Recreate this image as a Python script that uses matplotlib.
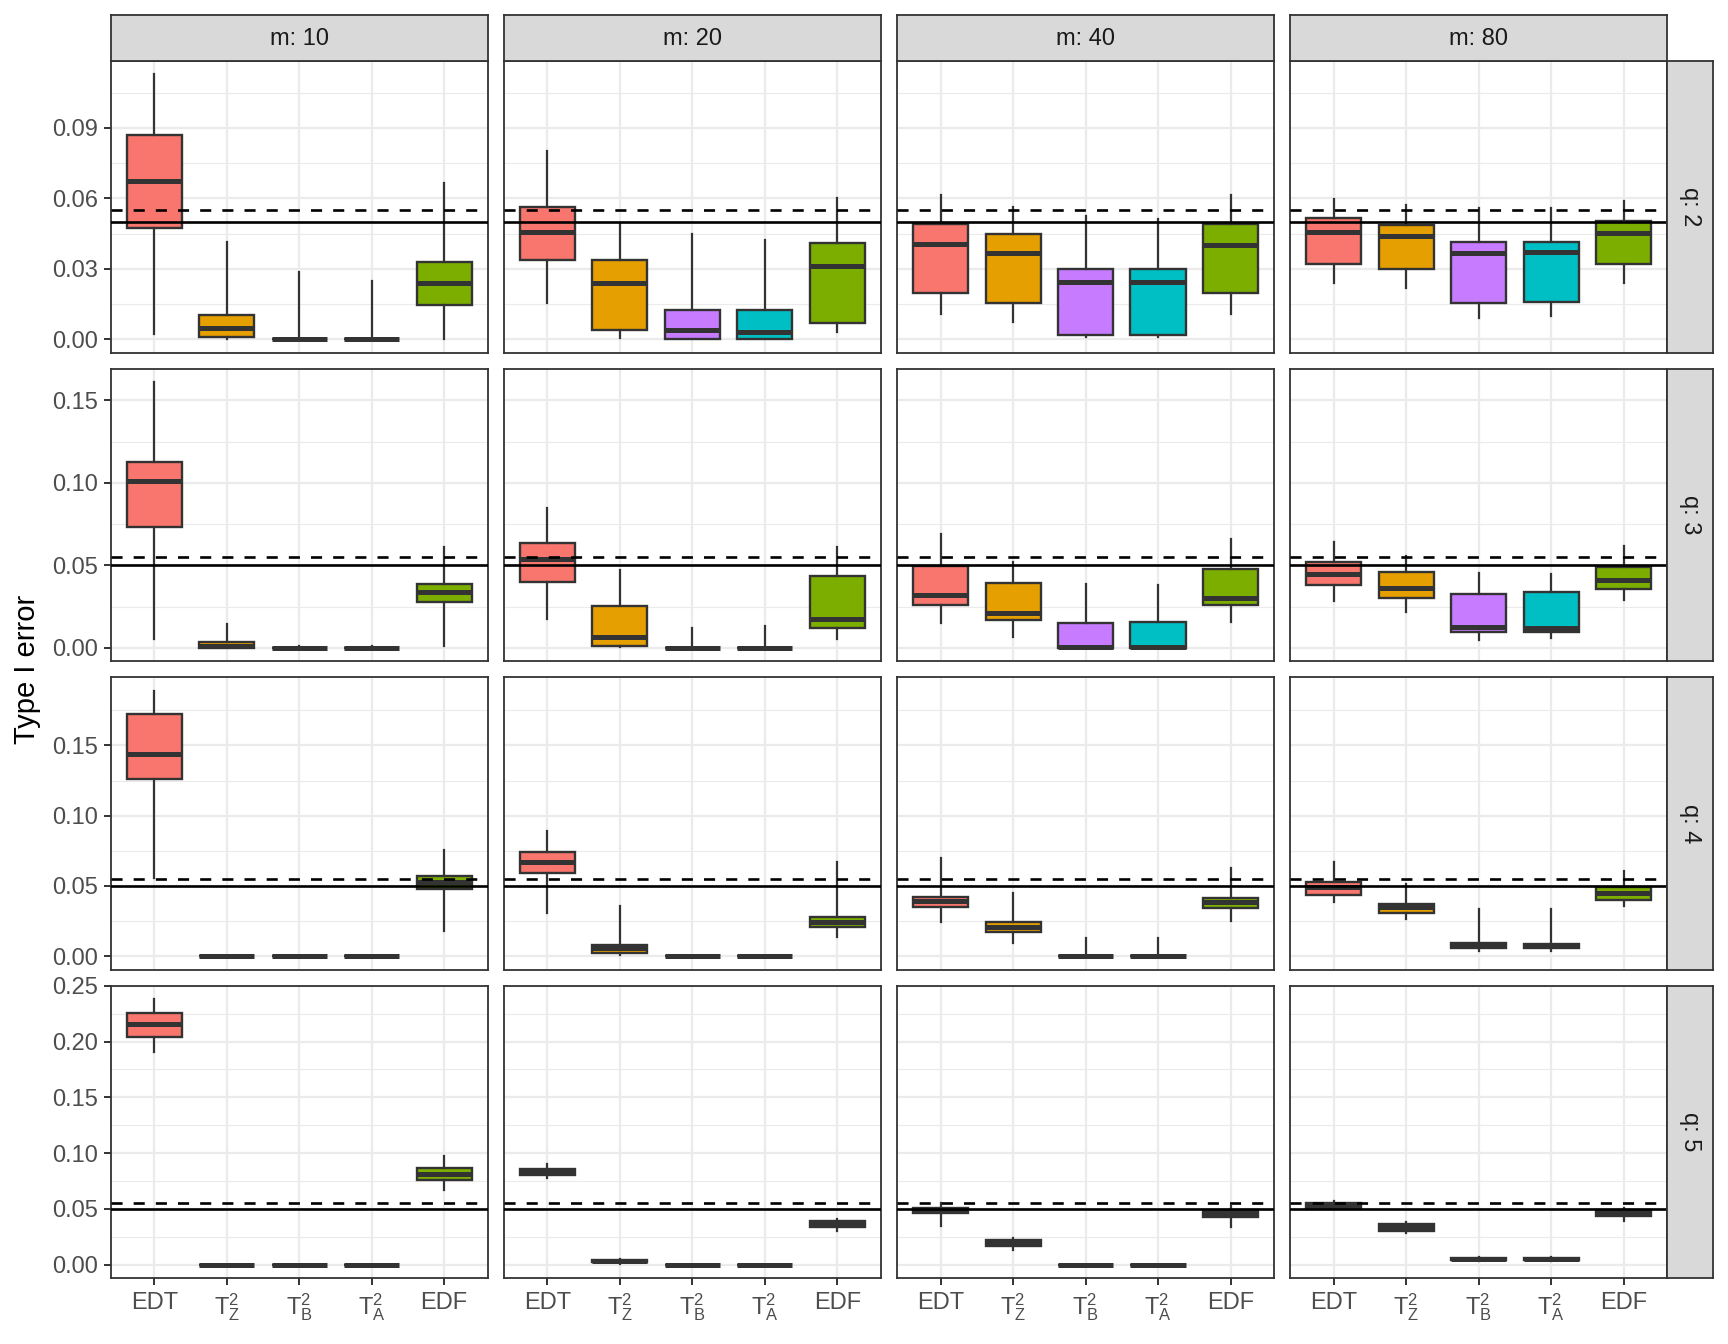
import matplotlib
matplotlib.use("Agg")
import matplotlib.pyplot as plt
import numpy as np

plt.rcParams['font.family'] = ['Liberation Sans', 'DejaVu Sans']
plt.rcParams['mathtext.fontset'] = 'custom'
plt.rcParams['mathtext.rm'] = 'Liberation Sans'
plt.rcParams['mathtext.it'] = 'Liberation Sans'

# each box: (whisker low, q1, median, q3, whisker high)
methods = ["EDT", "TZ", "TB", "TA", "EDF"]
tick_labels = ["EDT", r"$\mathrm{T}_\mathrm{Z}^2$", r"$\mathrm{T}_\mathrm{B}^2$",
               r"$\mathrm{T}_\mathrm{A}^2$", "EDF"]
colors = ["#F8766D", "#E69F00", "#C77CFF", "#00BFC4", "#7CAE00"]
m_values = [10, 20, 40, 80]
q_values = [2, 3, 4, 5]
alpha_level = 0.05
alpha_upper = 0.055

zero = (0, 0, 0, 0, 0)

q2_m10 = [(0.0023, 0.0476, 0.0676, 0.0872, 0.113),
          (0.0, 0.001, 0.005, 0.0103, 0.0415),
          (0, 0, 0, 0, 0.0285),
          (0, 0, 0, 0, 0.0247),
          (0.0, 0.0145, 0.0238, 0.0331, 0.0667)]
q2_m20 = [(0.0154, 0.0336, 0.0457, 0.0564, 0.080),
          (0.0005, 0.0042, 0.0238, 0.0336, 0.0494),
          (0, 0, 0.0042, 0.0126, 0.0448),
          (0, 0, 0.0033, 0.0126, 0.0424),
          (0.003, 0.007, 0.0312, 0.041, 0.060)]
q2_m40 = [(0.0107, 0.0196, 0.0406, 0.049, 0.0616),
          (0.0075, 0.0154, 0.0368, 0.0448, 0.0564),
          (0.001, 0.0019, 0.0243, 0.030, 0.0527),
          (0.001, 0.0019, 0.0243, 0.030, 0.0513),
          (0.0107, 0.0196, 0.040, 0.049, 0.0616)]
q2_m80 = [(0.0238, 0.0322, 0.0457, 0.0518, 0.0597),
          (0.0219, 0.030, 0.0438, 0.0485, 0.057),
          (0.0093, 0.0154, 0.0368, 0.0415, 0.056),
          (0.0098, 0.0159, 0.0372, 0.0415, 0.056),
          (0.0238, 0.0322, 0.0452, 0.0504, 0.0588)]

q3_m10 = [(0.0053, 0.073, 0.1009, 0.1128, 0.161),
          (0, 0, 0.0013, 0.0033, 0.0146),
          (0, 0, 0, 0, 0.001),
          (0, 0, 0, 0, 0.001),
          (0.0013, 0.0279, 0.0338, 0.0385, 0.061)]
q3_m20 = [(0.0173, 0.0398, 0.0537, 0.0637, 0.085),
          (0.0007, 0.0013, 0.0066, 0.0252, 0.047),
          (0, 0, 0, 0, 0.012),
          (0, 0, 0, 0, 0.013),
          (0.0053, 0.012, 0.0173, 0.0438, 0.061)]
q3_m40 = [(0.0153, 0.0259, 0.0318, 0.0498, 0.069),
          (0.0066, 0.0166, 0.0212, 0.039, 0.0518),
          (0, 0, 0.0007, 0.0153, 0.0385),
          (0, 0, 0.0007, 0.0159, 0.0378),
          (0.0159, 0.0259, 0.0305, 0.0478, 0.0657)]
q3_m80 = [(0.0285, 0.0378, 0.0445, 0.0518, 0.064),
          (0.0219, 0.0305, 0.0365, 0.0458, 0.0557),
          (0.0046, 0.0093, 0.0126, 0.0325, 0.0451),
          (0.006, 0.0093, 0.012, 0.0338, 0.0445),
          (0.0292, 0.0358, 0.0411, 0.0491, 0.0617)]

q4_m10 = [(0.0555, 0.1258, 0.1438, 0.1727, 0.189),
          zero, zero, zero,
          (0.018, 0.0477, 0.0531, 0.057, 0.0758)]
q4_m20 = [(0.0305, 0.0594, 0.0672, 0.0742, 0.089),
          (0.0008, 0.0023, 0.0055, 0.0078, 0.036),
          zero, zero,
          (0.014, 0.021, 0.0242, 0.028, 0.0672)]
q4_m40 = [(0.0242, 0.0352, 0.039, 0.0422, 0.070),
          (0.0094, 0.0172, 0.021, 0.0242, 0.0453),
          (0, 0, 0, 0, 0.0133),
          (0, 0, 0, 0, 0.0133),
          (0.025, 0.0344, 0.0383, 0.0414, 0.0625)]
q4_m80 = [(0.0383, 0.0438, 0.0492, 0.0531, 0.0672),
          (0.0266, 0.0305, 0.0352, 0.0375, 0.0516),
          (0.004, 0.0055, 0.0078, 0.0094, 0.0336),
          (0.004, 0.0055, 0.007, 0.0086, 0.0336),
          (0.036, 0.0398, 0.0453, 0.0492, 0.061)]

q5_m10 = [(0.191, 0.2037, 0.2156, 0.2254, 0.238),
          zero, zero, zero,
          (0.0669, 0.0758, 0.0817, 0.0866, 0.0974)]
q5_m20 = [(0.0778, 0.0807, 0.0837, 0.0856, 0.0906),
          (0.001, 0.002, 0.003, 0.004, 0.005),
          zero, zero,
          (0.0305, 0.0335, 0.0364, 0.0394, 0.0413)]
q5_m40 = [(0.0344, 0.0463, 0.0492, 0.0512, 0.0551),
          (0.0128, 0.0167, 0.0197, 0.0217, 0.0236),
          zero, zero,
          (0.0335, 0.0423, 0.0463, 0.0492, 0.0522)]
q5_m80 = [(0.0502, 0.0502, 0.0532, 0.0551, 0.057),
          (0.0285, 0.0305, 0.0335, 0.0364, 0.0384),
          (0.003, 0.004, 0.005, 0.006, 0.007),
          (0.003, 0.004, 0.005, 0.006, 0.007),
          (0.0394, 0.0433, 0.0463, 0.0492, 0.0512)]

panels = [[q2_m10, q2_m20, q2_m40, q2_m80],
          [q3_m10, q3_m20, q3_m40, q3_m80],
          [q4_m10, q4_m20, q4_m40, q4_m80],
          [q5_m10, q5_m20, q5_m40, q5_m80]]

row_ticks = [[0, 0.03, 0.06, 0.09],
             [0, 0.05, 0.10, 0.15],
             [0, 0.05, 0.10, 0.15],
             [0, 0.05, 0.10, 0.15, 0.20, 0.25]]

W, H = 1728, 1344
fig = plt.figure(figsize=(W / 100, H / 100), dpi=100)
fig.patch.set_facecolor("white")


def px_axes(x0, y0, w, h):
    return fig.add_axes([x0 / W, 1 - (y0 + h) / H, w / W, h / H])


left0 = 110.7
pw = 376.9
col_step = 393.2
top0 = 60.6
ph = 292.1
row_step = 308.4
strip_h = 45.6
strip_w = 46.3
dark = "#333333"
fs = 17

for r in range(4):
    # row-wise free y scale, including the reference lines
    vals = [alpha_level, alpha_upper]
    for c in range(4):
        for b in panels[r][c]:
            vals.extend(b)
    lo, hi = min(vals), max(vals)
    pad = (hi - lo) * 0.05
    ylim = (lo - pad, hi + pad)
    ticks = row_ticks[r]
    step = ticks[1] - ticks[0]
    minor = [t + step / 2 for t in [ticks[0] - step] + ticks]
    minor = [m for m in minor if ylim[0] <= m <= ylim[1]]

    for c in range(4):
        ax = px_axes(left0 + c * col_step, top0 + r * row_step, pw, ph)
        ax.set_facecolor("white")
        ax.set_xlim(0.4, 5.6)
        ax.set_ylim(*ylim)
        for t in ticks:
            ax.axhline(t, color="#EBEBEB", lw=1.6, zorder=0)
        for t in minor:
            ax.axhline(t, color="#EBEBEB", lw=0.8, zorder=0)
        for x in range(1, 6):
            ax.axvline(x, color="#EBEBEB", lw=1.6, zorder=0)

        stats = []
        for lab, b in zip(methods, panels[r][c]):
            stats.append(dict(label=lab, whislo=b[0], q1=b[1], med=b[2],
                              q3=b[3], whishi=b[4], fliers=[]))
        bp = ax.bxp(stats, positions=range(1, 6), widths=0.76,
                    showcaps=False, showfliers=False, patch_artist=True,
                    boxprops=dict(edgecolor=dark, linewidth=1.7),
                    whiskerprops=dict(color=dark, linewidth=1.6),
                    medianprops=dict(color=dark, linewidth=3.6,
                                     solid_capstyle="butt"),
                    zorder=2)
        for patch, col in zip(bp["boxes"], colors):
            patch.set_facecolor(col)

        ax.axhline(alpha_level, color="black", lw=1.9, zorder=4)
        ax.axhline(alpha_upper, color="black", lw=1.9,
                   linestyle=(0, (4.2, 4.2)), zorder=4)

        for s in ax.spines.values():
            s.set_color(dark)
            s.set_linewidth(1.3)
        ax.tick_params(axis="both", colors=dark, length=5, width=1.4,
                       labelcolor="#4D4D4D", labelsize=fs)
        ax.tick_params(axis="y", pad=4)
        ax.tick_params(axis="x", pad=5)
        ax.set_xticks(range(1, 6))
        if r == 3:
            ax.set_xticklabels(tick_labels)
        else:
            ax.tick_params(axis="x", length=0)
            ax.set_xticklabels([])
        ax.set_yticks(ticks)
        if c == 0:
            ax.set_yticklabels(["%.2f" % t for t in ticks])
        else:
            ax.tick_params(axis="y", length=0)
            ax.set_yticklabels([])

        if r == 0:
            sa = px_axes(left0 + c * col_step, top0 - strip_h, pw, strip_h)
            sa.set_facecolor("#D9D9D9")
            sa.set_xticks([])
            sa.set_yticks([])
            for s in sa.spines.values():
                s.set_color(dark)
                s.set_linewidth(1.3)
            sa.text(0.5, 0.47, "m: %d" % m_values[c], ha="center", va="center",
                    fontsize=fs, color="#1A1A1A", transform=sa.transAxes)

    sa = px_axes(left0 + 3 * col_step + pw, top0 + r * row_step, strip_w, ph)
    sa.set_facecolor("#D9D9D9")
    sa.set_xticks([])
    sa.set_yticks([])
    for s in sa.spines.values():
        s.set_color(dark)
        s.set_linewidth(1.3)
    sa.text(0.5, 0.5, "q: %d" % q_values[r], ha="center", va="center",
            rotation=-90, fontsize=fs, color="#1A1A1A", transform=sa.transAxes)

fig.text(27 / W, 1 - ((top0 + top0 + 3 * row_step + ph) / 2) / H, "Type I error",
         rotation=90, ha="center", va="center", fontsize=21, color="black")

fig.savefig("out.png", dpi=100)
